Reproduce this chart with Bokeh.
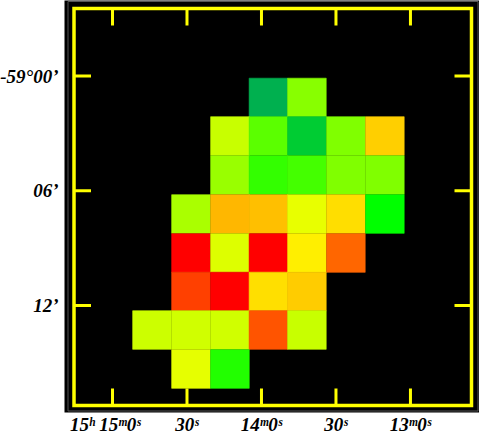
from bokeh.plotting import figure
from bokeh.models import LinearAxis, FixedTicker, LinearColorMapper, ColumnDataSource, Range1d
from bokeh.embed import file_html
from bokeh.resources import INLINE

ra_ticks = [900, 870, 840, 810, 780]
ra_labels = ["15ʰ 15ᵐ0ˢ\u00a0\u00a0\u00a0", "30ˢ", "14ᵐ0ˢ", "30ˢ", "13ᵐ0ˢ"]
dec_ticks = [0, 6, 12]
dec_labels = ["-59°00’", "06’", "12’"]

ra_centers = [884.1, 868.4, 852.7, 837.2, 821.7, 806.0, 790.3]
dec_centers = [1.124, 3.137, 5.176, 7.215, 9.254, 11.266, 13.279, 15.318]

intensity = [
    [None, None, None, 2, 46, None, None],
    [None, None, 53.5, 40.8, 12, 45, 67.4],
    [None, None, 48, 36, 38, 45, 45],
    [None, 50, 71.1, 69.9, 57.3, 65.3, 30],
    [None, 100, 56, 100, 62.4, 84, None],
    [None, 90, 100, 64.9, 68, None, None],
    [54, 54.5, 54.5, 86.7, 53.5, None, None],
    [None, 57, 34, None, None, None, None],
]


def ramp(v):
    if v >= 60:
        return (255, round(255 * (100 - v) / 40), 0)
    if v >= 30:
        return (round(255 * (v - 30) / 30), 255, 0)
    return (0, round(255 - 85 * (30 - v) / 30), round(85 * (30 - v) / 30))


palette = ["#%02x%02x%02x" % ramp(i / 4) for i in range(401)]
mapper = LinearColorMapper(palette=palette, low=0, high=100)

xs, ys, vs = [], [], []
for r, row in enumerate(intensity):
    for c, val in enumerate(row):
        if val is not None:
            xs.append(ra_centers[c]); ys.append(dec_centers[r]); vs.append(val)
src = ColumnDataSource(dict(x=xs, y=ys, v=vs))

PXS = 2.483   # pixels per RA second
PXM = 19.13   # pixels per arcminute
X0, Y0 = 112.0, 75.5   # page position of the first ticks
W, H = 479, 434
L, B = 64, 22
SHIFT = 4     # the figure sits this far left of the page edge, for the long label


def dx(px):
    return ra_ticks[0] - (px - X0) / PXS


def dy(py):
    return (py - Y0) / PXM


p = figure(width=W + SHIFT, height=H, frame_width=W - L, frame_height=H - B,
           output_backend="svg", toolbar_location=None,
           x_range=Range1d(dx(L), dx(W)), y_range=Range1d(dy(H - B), dy(0)),
           min_border_left=L + SHIFT, min_border_bottom=B, min_border_top=0, min_border_right=0,
           background_fill_color="black", border_fill_color="white",
           outline_line_color=None, x_axis_location=None, y_axis_location=None)
p.margin = (0, 0, 0, -SHIFT)
p.grid.visible = False

cell_color = {"field": "v", "transform": mapper}
p.rect("x", "y", width=15.55, height=2.02, source=src, line_width=0.6,
       line_color=cell_color, fill_color=cell_color)

# thin gray inner rule
p.rect([(dx(67.5) + dx(477.5)) / 2], [(dy(1) + dy(410.5)) / 2],
       width=dx(67.5) - dx(477.5), height=dy(410.5) - dy(1),
       fill_color=None, line_color="#555555", line_width=1)

# yellow box
fl, fr, ft, fb = dx(73.5), dx(471), dy(8), dy(405)
p.rect([(fl + fr) / 2], [(ft + fb) / 2], width=fl - fr, height=fb - ft,
       fill_color=None, line_color="#ffff00", line_width=3.5, line_join="miter")

# inward ticks
tx = 17 / PXM
ts = 17 / PXS
p.segment(ra_ticks, [ft] * 5, ra_ticks, [ft + tx] * 5, line_color="#ffff00", line_width=3)
p.segment(ra_ticks, [fb] * 5, ra_ticks, [fb - tx] * 5, line_color="#ffff00", line_width=3)
p.segment([fl] * 3, dec_ticks, [fl - ts] * 3, dec_ticks, line_color="#ffff00", line_width=3)
p.segment([fr] * 3, dec_ticks, [fr + ts] * 3, dec_ticks, line_color="#ffff00", line_width=3)


def style(ax, ticks, labels):
    ax.ticker = FixedTicker(ticks=ticks)
    ax.axis_line_color = None
    ax.major_tick_line_color = None
    ax.minor_tick_line_color = None
    ax.major_tick_in = 0
    ax.major_tick_out = 0
    ax.major_label_overrides = dict(zip(ticks, labels))
    ax.major_label_text_font = "Liberation Serif"
    ax.major_label_text_font_style = "bold italic"
    ax.major_label_text_font_size = "19px"
    ax.major_label_text_color = "black"


bottom = LinearAxis(major_label_standoff=1)
style(bottom, ra_ticks, ra_labels)
p.add_layout(bottom, "below")
left = LinearAxis(major_label_standoff=6)
style(left, dec_ticks, dec_labels)
p.add_layout(left, "left")

open("out.html", "w").write(file_html(p, INLINE))
